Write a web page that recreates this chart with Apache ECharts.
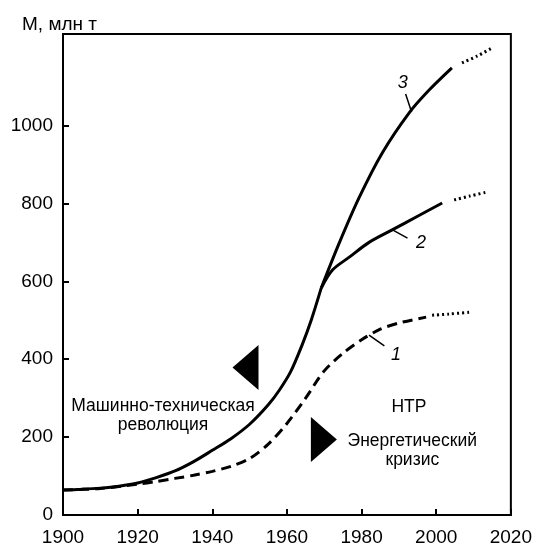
<!DOCTYPE html>
<html>
<head>
<meta charset="utf-8">
<script src="https://cdn.jsdelivr.net/npm/echarts@6/dist/echarts.min.js"></script>
<style>
html,body{margin:0;padding:0;background:#fff;}
#chart{width:535px;height:547px;}
</style>
</head>
<body>
<div id="chart"></div>
<script>
// ---- data (years, million tonnes) ----
const yTickValues = [0, 200, 400, 600, 800, 1000];
const xTickLabels = [1900, 1920, 1940, 1960, 1980, 2000, 2020];

// common trunk (solid) up to branching point
const trunkYears  = [1900, 1905, 1910, 1915, 1920, 1925, 1930, 1935, 1940, 1945, 1950, 1955, 1958, 1961, 1964, 1966.5, 1969.2];
const trunkValues = [64, 66, 69, 74, 82, 96, 113, 137, 166, 196, 233, 283, 321, 368, 435, 500, 583];

// curve 3 (solid + forecast dotted)
const c3Years  = [1969.2, 1974, 1979.4, 1985.5, 1992.7, 1998.1, 2004.2];
const c3Values = [583, 698, 816, 929, 1032, 1091, 1148];
const c3FYears  = [2006.9, 2010.9, 2014.9];
const c3FValues = [1161, 1178, 1199];

// curve 2 (solid + forecast dotted)
const c2Years  = [1969.2, 1972.2, 1976.7, 1982, 1988.2, 1995, 2001.6];
const c2Values = [583, 629, 662, 700, 732, 767, 801];
const c2FYears  = [2004.8, 2009, 2013.6];
const c2FValues = [809, 819, 829];

// curve 1 (dashed + forecast dotted)
const c1Years  = [1900, 1910, 1920, 1925, 1930, 1935, 1940, 1945, 1950, 1955, 1960, 1965, 1970, 1975, 1980, 1985, 1990, 1997.3];
const c1Values = [64, 68, 79, 86, 94, 102, 112, 125, 145, 182, 235, 300, 370, 415, 450, 477, 493, 508];
const c1FYears  = [1998.9, 2003.4, 2009.6];
const c1FValues = [513, 516, 521];

// curve number labels and their leader lines (data coordinates)
const curveLabels = [
  {text: '3', year: 1991.0, value: 1108},
  {text: '2', year: 1995.9, value: 698},
  {text: '1', year: 1989.2, value: 411}
];
const leaders = [
  [[1991.8, 1081], [1993.4, 1035]],
  [[1988.3, 732], [1992.3, 711]],
  [[1982.0, 462], [1986.1, 434]]
];
// period annotations
const notes = [
  {text: 'Машинно-техническая\nреволюция', year: 1926.8, value: 254},
  {text: 'НТР', year: 1992.7, value: 278},
  {text: 'Энергетический\nкризис', year: 1993.6, value: 164}
];
const markers = [
  {dir: 'left',  year: 1948.9, value: 379},
  {dir: 'right', year: 1969.9, value: 194}
];

const FONT = "'Liberation Sans', Arial, Helvetica, sans-serif";
const zip = (xs, ys) => xs.map((x, i) => [x, ys[i]]);

function lineSeries(xs, ys, type) {
  return {
    type: 'line', data: zip(xs, ys), symbol: 'none', smooth: 0.3,
    lineStyle: {color: '#000', width: 3, type: type, cap: 'butt'},
    silent: true, z: 3
  };
}

const series = [
  lineSeries(trunkYears, trunkValues, 'solid'),
  lineSeries(c3Years, c3Values, 'solid'),
  lineSeries(c3FYears, c3FValues, [2, 3]),
  lineSeries(c2Years, c2Values, 'solid'),
  lineSeries(c2FYears, c2FValues, [2, 3]),
  lineSeries(c1Years, c1Values, [10, 6]),
  lineSeries(c1FYears, c1FValues, [2, 3])
];
leaders.forEach(seg => series.push({
  type: 'line', data: seg, symbol: 'none', silent: true,
  lineStyle: {color: '#000', width: 1.5}
}));
series.push({
  type: 'scatter', silent: true, symbolSize: 0,
  itemStyle: {opacity: 1},
  data: curveLabels.map(l => ({value: [l.year, l.value], name: l.text})),
  label: {show: true, position: 'inside', formatter: p => p.name,
    color: '#000', fontSize: 18, fontStyle: 'italic', fontFamily: FONT}
});
series.push({
  type: 'scatter', silent: true, symbolSize: 0,
  itemStyle: {opacity: 1},
  data: notes.map(l => ({value: [l.year, l.value], name: l.text})),
  label: {show: true, position: 'inside', formatter: p => p.name,
    color: '#000', fontSize: 17.5, lineHeight: 19, align: 'center', fontFamily: FONT}
});
series.push({
  type: 'scatter', silent: true, symbol: 'triangle', symbolSize: [45, 26],
  itemStyle: {color: '#000', opacity: 1},
  data: markers.map(m => ({value: [m.year, m.value], symbolRotate: m.dir === 'left' ? 90 : -90}))
});

const chart = echarts.init(document.getElementById('chart'), null, {renderer: 'canvas'});
chart.setOption({
  animation: false,
  backgroundColor: '#fff',
  title: {
    text: 'М, млн т', left: 17, top: 10,
    textStyle: {fontSize: 19, fontWeight: 'normal', color: '#000', fontFamily: FONT}
  },
  grid: {left: 63, right: 23, top: 34, bottom: 32, show: true, borderColor: '#000', borderWidth: 2, backgroundColor: 'transparent'},
  xAxis: {
    type: 'value', min: xTickLabels[0], max: xTickLabels[xTickLabels.length - 1], interval: 20,
    axisLine: {lineStyle: {color: '#000', width: 2}},
    axisTick: {inside: true, length: 6, lineStyle: {color: '#000', width: 2}},
    axisLabel: {color: '#000', fontSize: 19, margin: 13, fontFamily: FONT, formatter: v => String(v)},
    splitLine: {show: false}
  },
  yAxis: {
    type: 'value', min: 0, max: 1235,
    axisLine: {show: true, lineStyle: {color: '#000', width: 2}},
    axisTick: {show: true, inside: true, length: 6, lineStyle: {color: '#000', width: 2}, customValues: yTickValues},
    axisLabel: {color: '#000', fontSize: 19, margin: 10, fontFamily: FONT, customValues: yTickValues, formatter: v => String(v)},
    splitLine: {show: false}
  },
  series: series
});
</script>
</body>
</html>
